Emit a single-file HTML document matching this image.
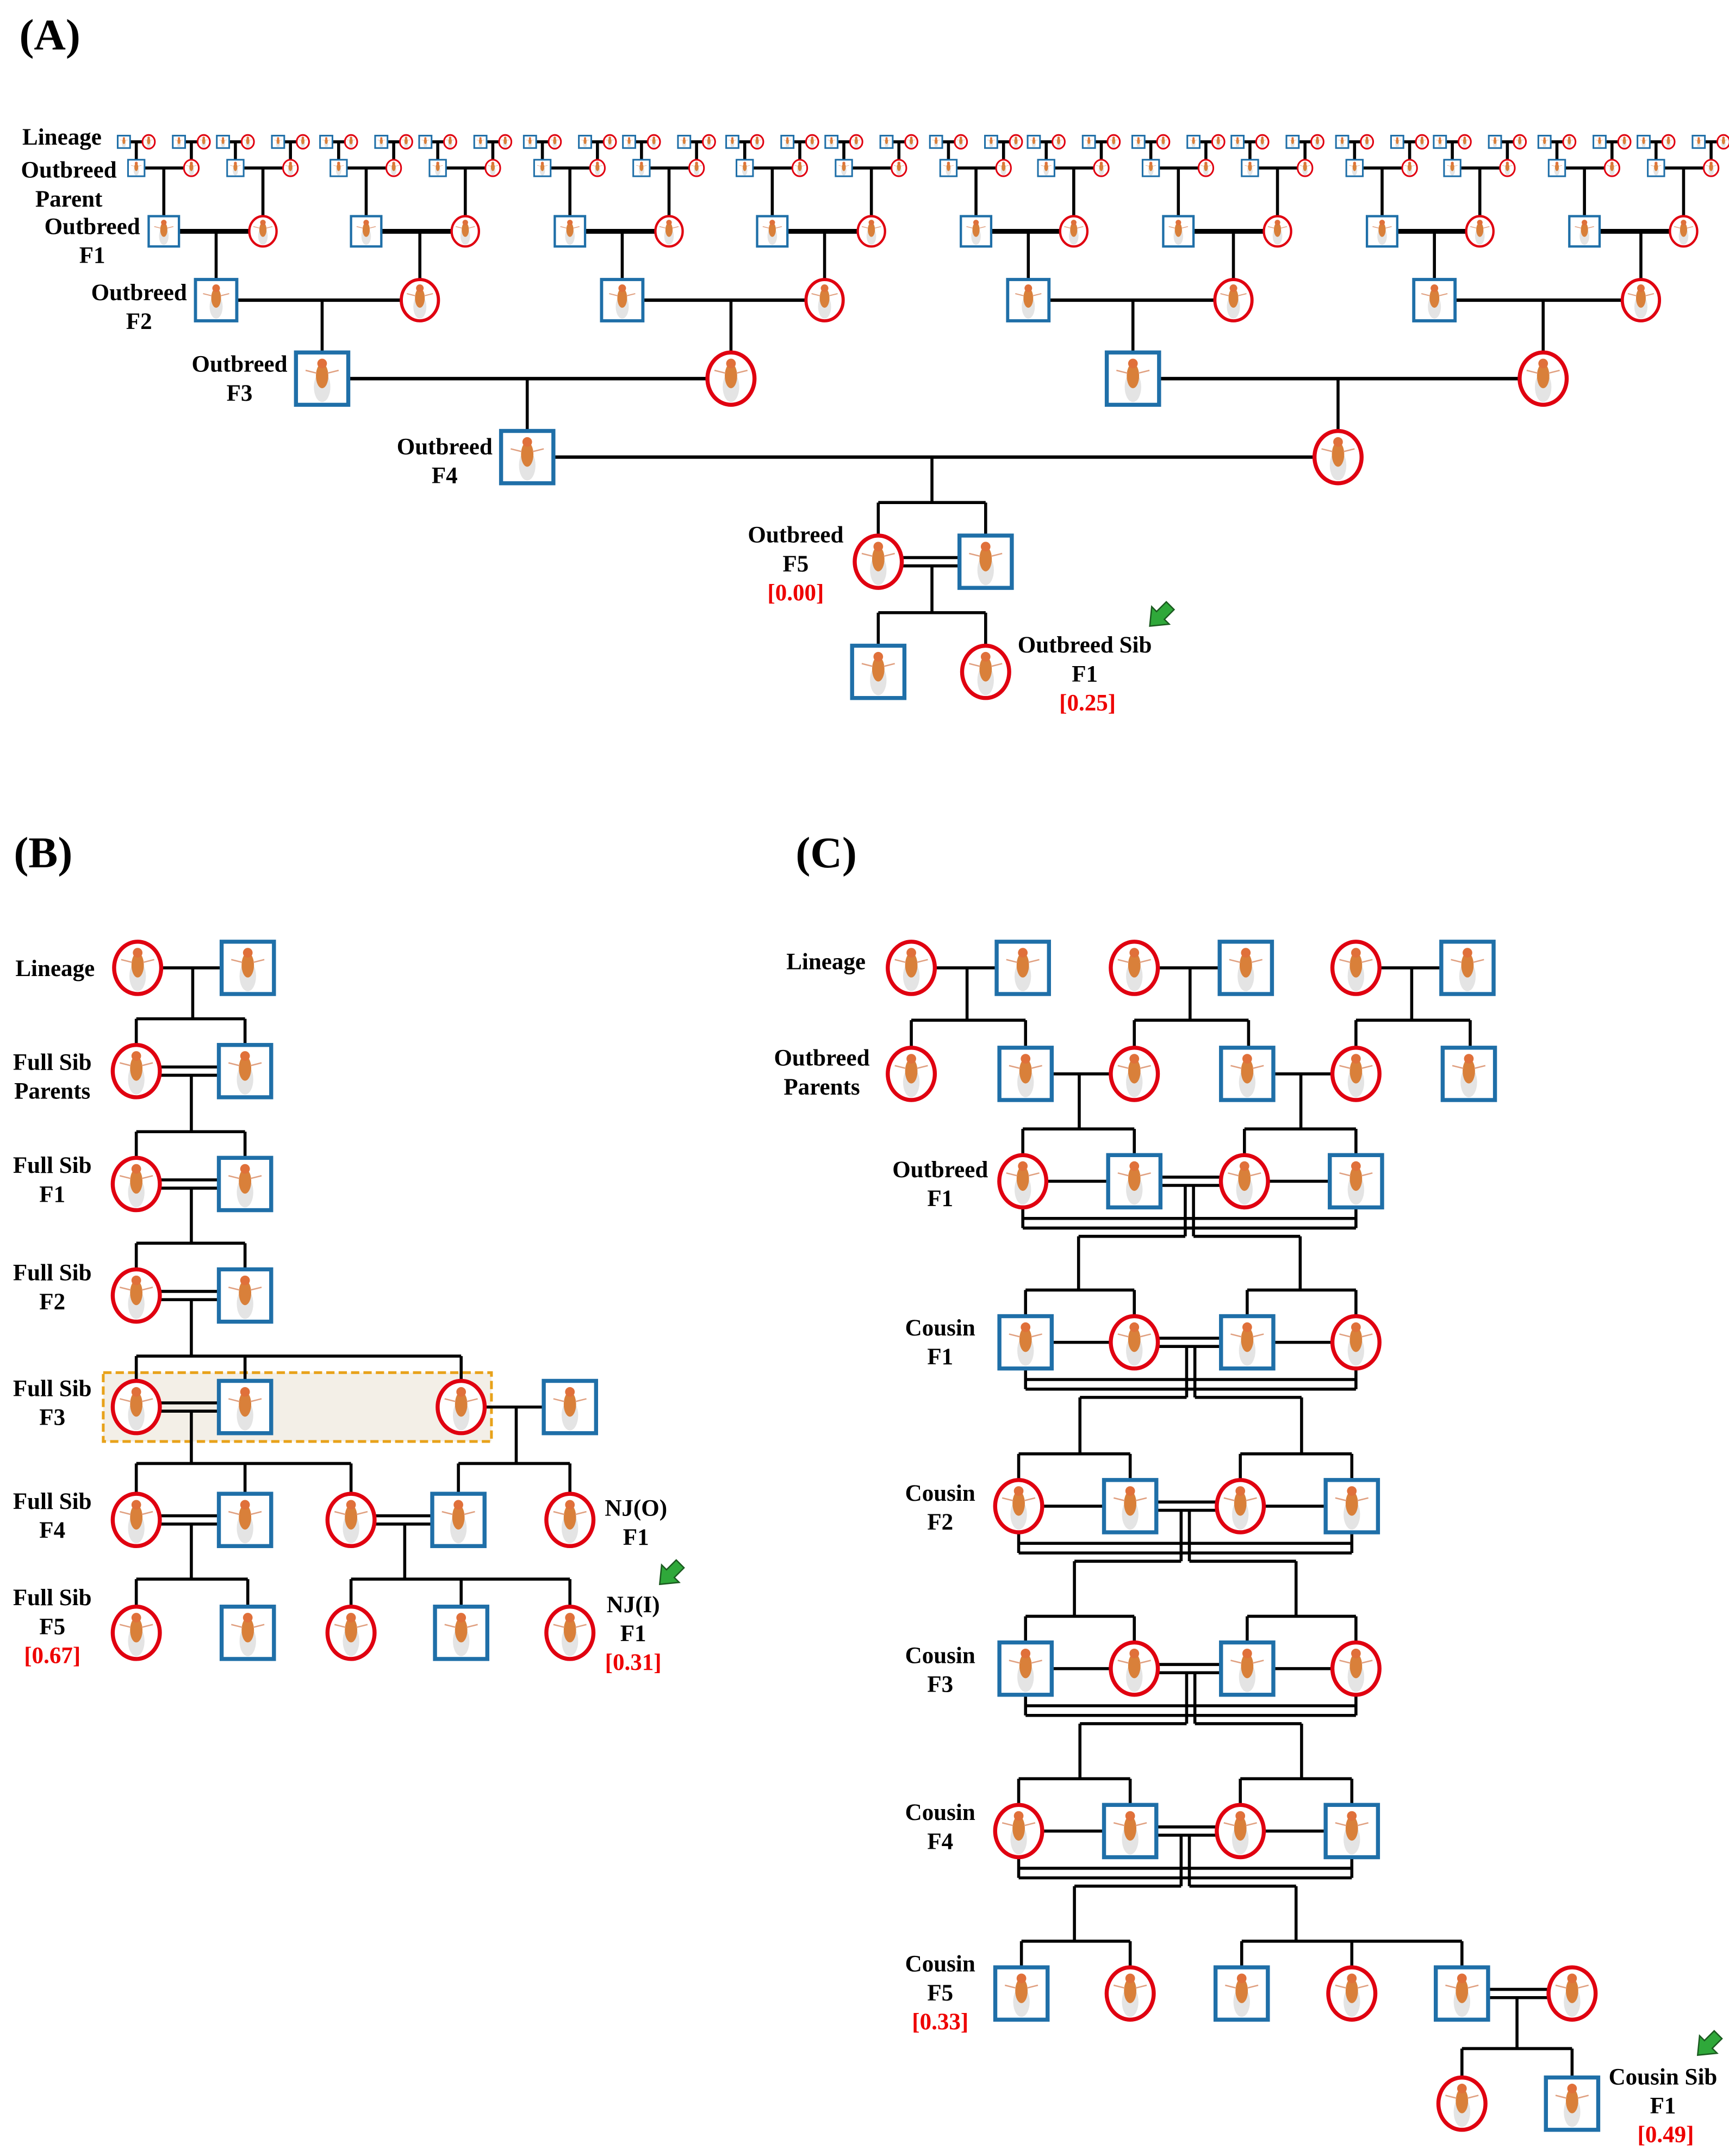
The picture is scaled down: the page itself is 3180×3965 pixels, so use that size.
<!DOCTYPE html>
<html><head><meta charset="utf-8"><style>
html,body{margin:0;padding:0;background:#fff}
svg{display:block}
text{font-family:"Liberation Serif",serif;font-weight:bold;fill:#000}
.r{fill:#e00}
</style></head><body>
<svg id="s" width="3180" height="3965" viewBox="0 0 1256 1566" xmlns="http://www.w3.org/2000/svg">
<rect x="75" y="997" width="282" height="50" fill="#f3efe7" stroke="#e8a21a" stroke-width="2" stroke-dasharray="6,3"/>
<g id="g"></g>
<g font-size="17" text-anchor="middle">
<text x="14" y="36" font-size="32" text-anchor="start" style="font-size:32px">(A)</text>
<text x="10" y="630" font-size="32" text-anchor="start">(B)</text>
<text x="578" y="630" font-size="32" text-anchor="start">(C)</text>
<text x="45" y="105">Lineage</text>
<text x="50" y="129">Outbreed</text><text x="50" y="150">Parent</text>
<text x="67" y="170">Outbreed</text><text x="67" y="191">F1</text>
<text x="101" y="218">Outbreed</text><text x="101" y="239">F2</text>
<text x="174" y="270">Outbreed</text><text x="174" y="291">F3</text>
<text x="323" y="330">Outbreed</text><text x="323" y="351">F4</text>
<text x="578" y="394">Outbreed</text><text x="578" y="415">F5</text><text x="578" y="436" class="r">[0.00]</text>
<text x="788" y="474">Outbreed Sib</text><text x="788" y="495">F1</text><text x="790" y="516" class="r">[0.25]</text>
<text x="40" y="709">Lineage</text>
<text x="38" y="777">Full Sib</text><text x="38" y="798">Parents</text>
<text x="38" y="852">Full Sib</text><text x="38" y="873">F1</text>
<text x="38" y="930">Full Sib</text><text x="38" y="951">F2</text>
<text x="38" y="1014">Full Sib</text><text x="38" y="1035">F3</text>
<text x="38" y="1096">Full Sib</text><text x="38" y="1117">F4</text>
<text x="38" y="1166">Full Sib</text><text x="38" y="1187">F5</text><text x="38" y="1208" class="r">[0.67]</text>
<text x="462" y="1101">NJ(O)</text><text x="462" y="1122">F1</text>
<text x="460" y="1171">NJ(I)</text><text x="460" y="1192">F1</text><text x="460" y="1213" class="r">[0.31]</text>
<text x="600" y="704">Lineage</text>
<text x="597" y="774">Outbreed</text><text x="597" y="795">Parents</text>
<text x="683" y="855">Outbreed</text><text x="683" y="876">F1</text>
<text x="683" y="970">Cousin</text><text x="683" y="991">F1</text>
<text x="683" y="1090">Cousin</text><text x="683" y="1111">F2</text>
<text x="683" y="1208">Cousin</text><text x="683" y="1229">F3</text>
<text x="683" y="1322">Cousin</text><text x="683" y="1343">F4</text>
<text x="683" y="1432">Cousin</text><text x="683" y="1453">F5</text><text x="683" y="1474" class="r">[0.33]</text>
<text x="1208" y="1514">Cousin Sib</text><text x="1208" y="1535">F1</text><text x="1210" y="1556" class="r">[0.49]</text>
</g>
</svg>
<script>
var g=document.getElementById('g'),h='';
function L(a,b,c,d,w){h+='<line x1="'+a+'" y1="'+b+'" x2="'+c+'" y2="'+d+'" stroke="#000" stroke-width="'+(w||2.2)+'"/>';}
function fly(x,y,s){var k=s/38;
h+='<g transform="translate('+x+','+y+') scale('+k+')"><ellipse cx="0" cy="6" rx="6" ry="11" fill="#ddd" opacity=".8"/><ellipse cx="0" cy="-2" rx="4.5" ry="9" fill="#d9803a"/><circle cx="0" cy="-11" r="3.5" fill="#e0703a"/><line x1="-4" y1="-4" x2="-12" y2="-6" stroke="#e0a080" stroke-width="1"/><line x1="4" y1="-4" x2="12" y2="-6" stroke="#e0a080" stroke-width="1"/></g>';}
function sq(x,y,s){h+='<rect x="'+(x-s/2)+'" y="'+(y-s/2)+'" width="'+s+'" height="'+s+'" fill="#fff" stroke="#1f6fa8" stroke-width="'+Math.max(1.2,s/13)+'"/>';fly(x,y,s);}
function ci(x,y,r){h+='<ellipse cx="'+x+'" cy="'+y+'" rx="'+(r*0.9)+'" ry="'+r+'" fill="#fff" stroke="#e00010" stroke-width="'+Math.max(1.2,r/6.5)+'"/>';fly(x,y,r*2);}
function dbl(a,b,y){L(a,y-3,b,y-3);L(a,y+3,b,y+3);}
function kids(px,py,yb,xs,ytop){L(px,py,px,yb);L(Math.min.apply(0,xs),yb,Math.max.apply(0,xs),yb);xs.forEach(function(x){L(x,yb,x,ytop);});}
// ---- Panel A
var f1=[[119,191],[266,338],[414,486],[561,633],[709,780],[856,928],[1004,1075],[1151,1223]];
f1.forEach(function(p){
 [p[0],p[1]].forEach(function(x){
  L(x-20,122,x+20,122);L(x,122,x,168-11);
  [x-20,x+20].forEach(function(px,i){
   L(px-9,103,px+9,103);L(px,103,px,122-6);
   sq(px-9,103,9);ci(px+9,103,5);
   if(i==0)sq(px,122,12);else ci(px,122,6);
  });
 });
 L(p[0],168,p[1],168,3.5);
});
var f2=[[157,305],[452,599],[747,896],[1042,1192]];
f2.forEach(function(p,i){L(p[0],218,p[1],218,2.5);});
f1.forEach(function(p,i){var t=f2[Math.floor(i/2)][i%2];L(t,168,t,218-15);});
f1.forEach(function(p){sq(p[0],168,22);ci(p[1],168,11);});
var f3=[[234,531],[823,1121]];
f3.forEach(function(p){L(p[0],275,p[1],275,2.5);});
f2.forEach(function(p,i){var t=f3[Math.floor(i/2)][i%2];L(t,218,t,275-19);sq(p[0],218,30);ci(p[1],218,15);});
L(383,332,972,332,2.5);
f3.forEach(function(p,i){var t=[383,972][i];L(t,275,t,313);sq(p[0],275,38);ci(p[1],275,19);});
sq(383,332,38);ci(972,332,19);
kids(677,332,365,[638,716],389);
dbl(638,716,408);kids(677,411,445,[638,716],469);
ci(638,408,19);sq(716,408,38);sq(638,488,38);ci(716,488,19);
// ---- Panel B
L(100,703,180,703);kids(140,703,740,[99,178],759);ci(100,703,19);sq(180,703,38);
[[778,822,860],[860,903,941]].forEach(function(r){dbl(99,178,r[0]);kids(139,r[0]+3,r[1],[99,178],r[2]-19);ci(99,r[0],19);sq(178,r[0],38);});
dbl(99,178,941);kids(139,944,985,[99,178,335],1003);ci(99,941,19);sq(178,941,38);
dbl(99,178,1022);L(335,1022,414,1022);
kids(139,1025,1063,[99,178,255],1085);kids(375,1022,1063,[333,414],1085);
ci(99,1022,19);sq(178,1022,38);ci(335,1022,19);sq(414,1022,38);
dbl(99,178,1104);dbl(255,333,1104);
kids(139,1107,1147,[99,180],1167);kids(294,1107,1147,[255,335,414],1167);
ci(99,1104,19);sq(178,1104,38);ci(255,1104,19);sq(333,1104,38);ci(414,1104,19);
ci(99,1186,19);sq(180,1186,38);ci(255,1186,19);sq(335,1186,38);ci(414,1186,19);
// ---- Panel C
[[662,743],[824,905],[985,1066]].forEach(function(p){L(p[0],703,p[1],703);var m=(p[0]+p[1])/2;kids(m,703,741,[p[0],p[1]+2],761);ci(p[0],703,19);sq(p[1],703,38);});
L(745,780,824,780);L(906,780,985,780);
kids(784,780,820,[743,824],839);kids(945,780,820,[904,985],839);
ci(662,780,19);sq(745,780,38);ci(824,780,19);sq(906,780,38);ci(985,780,19);sq(1067,780,38);
function cous(y,xs,y2){
 var x0=xs[0],x3=xs[3],mid=(xs[1]+xs[2])/2;
 L(x0,y+19,x0,y+34);L(x3,y+19,x3,y+34);
 L(x0,y+27,x3,y+27);L(x0,y+34,x3,y+34);
 L(mid-3,y+3,mid-3,y+40);L(mid+3,y+3,mid+3,y+40);
 var xa=(x0+xs[1])/2,xb=(xs[2]+x3)/2;
 L(xa,y+40,mid-3,y+40);L(mid+3,y+40,xb,y+40);
 L(xa,y+40,xa,y2-38);L(xb,y+40,xb,y2-38);
}
var rows=[[858,[743,824,904,985],'cscs'],[975,[745,824,906,985],'scsc'],[1094,[740,821,901,982],'cscs'],[1212,[745,824,906,985],'scsc'],[1330,[740,821,901,982],'cscs']];
for(var i=0;i<rows.length;i++){
 var r=rows[i],y=r[0],xs=r[1];
 dbl(xs[1],xs[2],y);L(xs[0],y,xs[1],y);L(xs[2],y,xs[3],y);
 if(i<rows.length-1){var n=rows[i+1];cous(y,xs,n[0]);
  var yb=n[0]-38;
  L(n[1][0],yb,n[1][1],yb);L(n[1][2],yb,n[1][3],yb);n[1].forEach(function(x){L(x,yb,x,n[0]-19);});}
}
cous(1330,[740,821,901,982],1448);
L(742,1410,821,1410);L(902,1410,1062,1410);[742,821,902,982,1062].forEach(function(x){L(x,1410,x,1429);});
dbl(1062,1142,1448);kids(1102,1451,1488,[1062,1142],1509);
rows.forEach(function(r){r[1].forEach(function(x,j){if(r[2][j]=='s')sq(x,r[0],38);else ci(x,r[0],19);});});
sq(742,1448,38);ci(821,1448,19);sq(902,1448,38);ci(982,1448,19);sq(1062,1448,38);ci(1142,1448,19);
ci(1062,1528,19);sq(1142,1528,38);
function arrow(x,y){h+='<g transform="translate('+x+','+y+') rotate(45)"><polygon points="-4,-10 4,-10 4,0 9,0 0,11 -9,0 -4,0" fill="#2fa83a" stroke="#1a5a1f" stroke-width="1"/></g>';}
arrow(843,447);arrow(487,1143);arrow(1241,1485);
g.innerHTML=h;
</script>
</body></html>
